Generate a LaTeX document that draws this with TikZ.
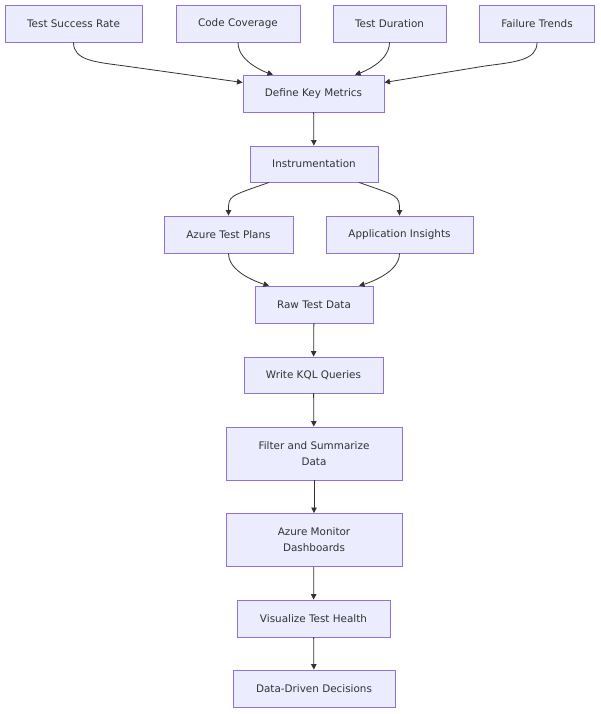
\documentclass[tikz,border=0pt]{standalone}
\usepackage{fontspec}
\setmainfont{DejaVu Sans}
\usetikzlibrary{arrows.meta}
\definecolor{boxfill}{HTML}{ECECFF}
\definecolor{boxline}{HTML}{9370DB}
\definecolor{txt}{HTML}{333333}
\definecolor{edge}{HTML}{333333}
\begin{document}
\begin{tikzpicture}[x=1pt,y=-1pt,
  box/.style={draw=boxline,fill=boxfill,line width=0.9pt,text=txt,
    font=\fontsize{10.4}{16}\selectfont,align=center,inner sep=0pt},
  conn/.style={draw=edge,line width=0.8pt,-{Triangle[length=5.5pt,width=5.5pt]}}]
\useasboundingbox (0,0) rectangle (600,714);
\node[box,minimum width=137pt,minimum height=37pt] (tsr) at (73.5,23.5) {Test Success Rate};
\node[box,minimum width=124pt,minimum height=37pt] (cc) at (238,23.5) {Code Coverage};
\node[box,minimum width=113pt,minimum height=37pt] (td) at (389.5,23.5) {Test Duration};
\node[box,minimum width=115pt,minimum height=37pt] (ft) at (537,23.5) {Failure Trends};
\node[box,minimum width=141pt,minimum height=37pt] (dkm) at (313.5,93.5) {Define Key Metrics};
\node[box,minimum width=128pt,minimum height=36pt] (ins) at (314,164) {Instrumentation};
\node[box,minimum width=129pt,minimum height=37pt] (atp) at (228.5,234.5) {Azure Test Plans};
\node[box,minimum width=147pt,minimum height=37pt] (ai) at (399.5,234.5) {Application Insights};
\node[box,minimum width=118pt,minimum height=37pt] (raw) at (314,304.5) {Raw Test Data};
\node[box,minimum width=139pt,minimum height=36pt] (kql) at (313.5,375) {Write KQL Queries};
\node[box,minimum width=176pt,minimum height=53pt] (fsd) at (314,453.5) {Filter and Summarize\\Data};
\node[box,minimum width=176pt,minimum height=53pt] (amd) at (314,540) {Azure Monitor\\Dashboards};
\node[box,minimum width=153pt,minimum height=37pt] (vth) at (313.5,618.5) {Visualize Test Health};
\node[box,minimum width=162pt,minimum height=37pt] (ddd) at (314,688.5) {Data-Driven Decisions};

\draw[conn] (tsr.south) .. controls ++(0,18) and (95,62) .. (125,66) -- ([yshift=11pt]dkm.west);
\draw[conn] (cc.south) .. controls ++(0,22) and ([xshift=-40.5pt]dkm.north) .. ([xshift=-40.5pt]dkm.north);
\draw[conn] (td.south) .. controls ++(0,22) and ([xshift=41.5pt]dkm.north) .. ([xshift=41.5pt]dkm.north);
\draw[conn] (ft.south) .. controls ++(0,18) and (515,62) .. (485,66) -- ([yshift=11pt]dkm.east);
\draw[conn] (dkm) -- (ins);
\draw[conn] ([xshift=-45pt]ins.south) .. controls ++(-40,14) and ([yshift=20pt]atp.north) .. (atp.north);
\draw[conn] ([xshift=45pt]ins.south) .. controls ++(40,14) and ([yshift=20pt]ai.north) .. (ai.north);
\draw[conn] (atp.south) .. controls ++(0,22) and ([xshift=-45pt]raw.north) .. ([xshift=-45pt]raw.north);
\draw[conn] (ai.south) .. controls ++(0,22) and ([xshift=45pt]raw.north) .. ([xshift=45pt]raw.north);
\draw[conn] (raw) -- (kql);
\draw[conn] (kql) -- (fsd);
\draw[conn] (fsd) -- (amd);
\draw[conn] (amd) -- (vth);
\draw[conn] (vth) -- (ddd);
\end{tikzpicture}
\end{document}
